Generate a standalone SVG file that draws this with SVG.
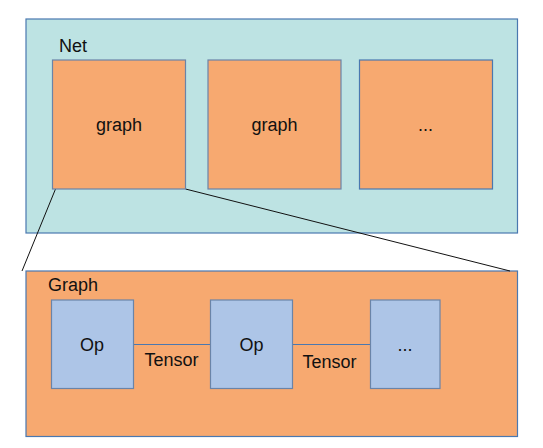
<svg xmlns="http://www.w3.org/2000/svg" width="543" height="448" viewBox="0 0 543 448">
<style>
.t{font-family:"Liberation Sans",Arial,sans-serif;font-size:18px;fill:#111}
.c{text-anchor:middle}
.net{fill:#bde3e3;stroke:#4a78b0;stroke-width:1.2}
.or{fill:#f7a970;stroke:#4a78b0;stroke-width:1.2}
.op{fill:#adc5e7;stroke:#6a84a8;stroke-width:1.2}
.g{fill:#f7a970;stroke:#6a84a8;stroke-width:1.2}
.ln{stroke:#111;stroke-width:1;fill:none}
.tl{stroke:#4a78b0;stroke-width:1.2;fill:none}
</style>
<g id="net">
<rect class="net" x="26" y="19" width="491.5" height="214"/>
<text class="t" x="59" y="52">Net</text>
</g>
<g id="graphBig">
<rect class="or" x="26" y="271" width="491.5" height="165.5"/>
<text class="t" x="48" y="291">Graph</text>
</g>
<g id="connectors">
<line class="ln" x1="55.5" y1="189" x2="22" y2="271"/>
<line class="ln" x1="185.5" y1="189" x2="510" y2="271"/>
<line class="tl" x1="133" y1="344.5" x2="210.5" y2="344.5"/>
<line class="tl" x1="292" y1="344.5" x2="370.5" y2="344.5"/>
<text class="t c" x="171.5" y="366">Tensor</text>
<text class="t c" x="329.5" y="367.5">Tensor</text>
</g>
<g id="graph1">
<rect class="g" x="52.5" y="60" width="133" height="129"/>
<text class="t c" x="119" y="131">graph</text>
</g>
<g id="graph2">
<rect class="g" x="208" y="60" width="133" height="129"/>
<text class="t c" x="274.5" y="131">graph</text>
</g>
<g id="graph3">
<rect class="or" x="359.5" y="60" width="133" height="129"/>
<text class="t c" x="425.5" y="131">...</text>
</g>
<g id="op1">
<rect class="op" x="51.5" y="300" width="82" height="88.5"/>
<text class="t c" x="92" y="351">Op</text>
</g>
<g id="op2">
<rect class="op" x="210.5" y="300" width="82" height="88.5"/>
<text class="t c" x="251.5" y="351">Op</text>
</g>
<g id="op3">
<rect class="op" x="370.5" y="300" width="69.5" height="88.5"/>
<text class="t c" x="405" y="351">...</text>
</g>
</svg>
